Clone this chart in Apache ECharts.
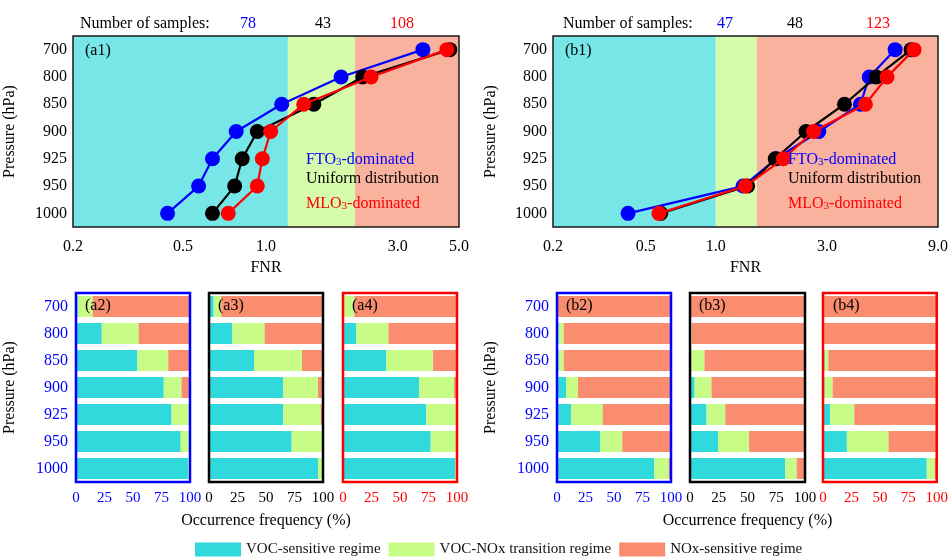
<!DOCTYPE html>
<html>
<head>
<meta charset="utf-8">
<script src="https://cdn.jsdelivr.net/npm/echarts@6/dist/echarts.min.js"></script>
<style>
html, body { margin: 0; padding: 0; background: #ffffff; }
#chart { width: 951px; height: 559px; }
</style>
</head>
<body>
<div id="chart"></div>
<script>
// Pressure levels (hPa), top of the column first
const pressureLevels = ['700', '800', '850', '900', '925', '950', '1000'];

// FNR profiles, region a
const a1FTO = [3.70, 1.87, 1.14, 0.78, 0.64, 0.57, 0.44];
const a1Uniform = [4.63, 2.24, 1.49, 0.93, 0.82, 0.77, 0.64];
const a1MLO = [4.52, 2.40, 1.37, 1.04, 0.97, 0.93, 0.73];
// FNR profiles, region b
const b1FTO = [5.89, 4.56, 4.18, 2.77, 1.82, 1.31, 0.42];
const b1Uniform = [6.90, 4.88, 3.57, 2.44, 1.80, 1.37, 0.58];
const b1MLO = [7.10, 5.44, 4.39, 2.63, 1.95, 1.34, 0.57];

// Regime thresholds on the FNR axis
const a1Thresholds = [1.2, 2.1];
const b1Thresholds = [1.0, 1.5];

// Number of samples per group (FTO3, uniform, MLO3)
const a1Samples = [78, 43, 108];
const b1Samples = [47, 48, 123];

// FNR axis labels and ticks
const a1AxisLabels = [0.2, 0.5, 1.0, 3.0, 5.0];
const a1AxisTicks = [0.2, 0.3, 0.4, 0.5, 0.6, 0.7, 0.8, 0.9, 1, 2, 3, 4, 5];
const b1AxisLabels = [0.2, 0.5, 1.0, 3.0, 9.0];
const b1AxisTicks = [0.2, 0.3, 0.4, 0.5, 0.6, 0.7, 0.8, 0.9, 1, 2, 3, 4, 5, 6, 7, 8, 9];

// Occurrence frequency (%) of each regime per level
const a2VOC = [1.5, 22.6, 53.8, 77.0, 83.8, 91.8, 98.2];
const a2Trans = [13.2, 32.4, 27.1, 15.6, 15.6, 8.2, 1.8];
const a2NOx = [85.3, 45.0, 19.1, 7.4, 0.6, 0, 0];

const a3VOC = [4.1, 20.5, 39.5, 65.2, 65.2, 72.5, 95.6];
const a3Trans = [6.7, 28.3, 42.1, 30.4, 32.8, 27.5, 4.4];
const a3NOx = [89.2, 51.2, 18.4, 4.4, 2.0, 0, 0];

const a4VOC = [0, 11.7, 38.0, 66.7, 73.1, 76.9, 98.5];
const a4Trans = [10.0, 28.1, 41.0, 30.7, 26.9, 23.1, 1.5];
const a4NOx = [90.0, 60.2, 21.0, 2.6, 0, 0, 0];

const b2VOC = [0, 1.5, 1.5, 7.9, 12.3, 38.0, 85.4];
const b2Trans = [0, 4.3, 4.3, 10.5, 27.8, 19.3, 12.6];
const b2NOx = [100, 94.2, 94.2, 81.6, 59.9, 42.7, 2.0];

const b3VOC = [0, 0, 0, 4.0, 14.4, 24.4, 82.8];
const b3Trans = [0, 1.5, 12.6, 14.7, 16.3, 27.0, 10.0];
const b3NOx = [100, 98.5, 87.4, 81.3, 69.3, 48.6, 7.2];

const b4VOC = [0, 0, 1.5, 1.5, 6.4, 21.0, 91.2];
const b4Trans = [0, 0, 3.2, 7.0, 21.1, 36.6, 7.0];
const b4NOx = [100, 100, 95.3, 91.5, 72.5, 42.4, 1.8];

const FONT = '"Liberation Serif", "Times New Roman", "DejaVu Serif", serif';
const BLUE = '#0000ff', BLACK = '#000000', RED = '#ff0000';
const VOC_COLOR = '#30DADC', TRANS_COLOR = '#C7FC87', NOX_COLOR = '#FA8C70';
const BG_VOC = '#76E6E6', BG_TRANS = '#D6FBAB', BG_NOX = '#F9B29E';
const REGIME_NAMES = ['VOC-sensitive regime', 'VOC-NOx transition regime', 'NOx-sensitive regime'];

const option = {
  animation: false,
  backgroundColor: '#ffffff',
  grid: [], xAxis: [], yAxis: [], series: [], graphic: [],
  legend: {
    data: REGIME_NAMES,
    left: 195, top: 542, padding: 0,
    itemWidth: 46, itemHeight: 14, itemGap: 8,
    icon: 'rect',
    selectedMode: false,
    textStyle: { fontFamily: FONT, fontSize: 15, color: '#111' }
  }
};

function txt(size, color) {
  return { fontFamily: FONT, fontSize: size, color: color };
}

// FNR profile panel on a log axis with regime bands behind
function addFnrPanel(rect, xMax, labelVals, tickVals, bounds, profiles, nameGapY) {
  option.grid.push(Object.assign({ show: true, borderColor: '#1a1a1a', borderWidth: 1.5,
    backgroundColor: 'transparent', z: 10 }, rect));
  const gi = option.grid.length - 1;
  const xi = option.xAxis.length;
  const xBase = {
    gridIndex: gi, type: 'log', logBase: 10, min: 0.2, max: xMax, z: 6,
    splitLine: { show: false }, axisLine: { show: false },
    axisTick: { inside: true, length: 5, customValues: tickVals, lineStyle: { color: '#333', width: 1 } }
  };
  option.xAxis.push(Object.assign({}, xBase, {
    position: 'bottom',
    axisLabel: Object.assign({ customValues: labelVals, margin: 12,
      formatter: v => Number(v).toFixed(1) }, txt(16, '#000')),
    name: 'FNR', nameLocation: 'middle', nameGap: 33, nameTextStyle: txt(16, '#000')
  }));
  option.xAxis.push(Object.assign({}, xBase, { position: 'top', axisLabel: { show: false } }));
  const yi = option.yAxis.length;
  const yBase = {
    gridIndex: gi, type: 'category', data: pressureLevels, inverse: true, z: 6,
    axisLine: { show: false }, splitLine: { show: false },
    axisTick: { inside: true, alignWithLabel: true, length: 4, lineStyle: { color: '#333' } }
  };
  option.yAxis.push(Object.assign({}, yBase, {
    position: 'left',
    axisLabel: Object.assign({ margin: 6 }, txt(16, '#000')),
    name: 'Pressure (hPa)', nameLocation: 'middle', nameGap: nameGapY, nameRotate: 90,
    nameTextStyle: txt(16, '#000')
  }));
  option.yAxis.push(Object.assign({}, yBase, { position: 'right', axisLabel: { show: false } }));

  profiles.forEach((p, k) => {
    const s = {
      type: 'line', xAxisIndex: xi, yAxisIndex: yi, silent: true,
      data: p.values.map((v, i) => [v, pressureLevels[i]]),
      symbol: 'circle', symbolSize: 15, showSymbol: true, z: 3 + k,
      color: p.color, itemStyle: { color: p.color }, lineStyle: { width: 2.2, color: p.color }
    };
    if (k === 0) {
      s.markArea = {
        silent: true,
        data: [
          [{ xAxis: 0.2, itemStyle: { color: BG_VOC } }, { xAxis: bounds[0] }],
          [{ xAxis: bounds[0], itemStyle: { color: BG_TRANS } }, { xAxis: bounds[1] }],
          [{ xAxis: bounds[1], itemStyle: { color: BG_NOX } }, { xAxis: xMax }]
        ]
      };
    }
    option.series.push(s);
  });
}

// Stacked regime-frequency panel
function addFreqPanel(rect, color, showYLabels, xName, voc, trans, nox) {
  option.grid.push(Object.assign({ show: true, borderColor: color, borderWidth: 2.5,
    backgroundColor: 'transparent', z: 10, top: 293, height: 189 }, rect));
  const gi = option.grid.length - 1;
  const xi = option.xAxis.length;
  const xBase = {
    gridIndex: gi, type: 'value', min: 0, max: 100, interval: 25, z: 6,
    splitLine: { show: false }, axisLine: { show: false },
    axisTick: { inside: true, length: 4, lineStyle: { color: color, width: 1, opacity: 0.6 } }
  };
  const bottomAxis = Object.assign({}, xBase, {
    position: 'bottom',
    axisLabel: Object.assign({ margin: 9, showMinLabel: true, showMaxLabel: true }, txt(15, color))
  });
  if (xName) {
    Object.assign(bottomAxis, { name: xName, nameLocation: 'middle', nameGap: 31,
      nameTextStyle: txt(16, '#000') });
  }
  option.xAxis.push(bottomAxis);
  option.xAxis.push(Object.assign({}, xBase, { position: 'top', axisLabel: { show: false } }));
  const yi = option.yAxis.length;
  const yBase = {
    gridIndex: gi, type: 'category', data: pressureLevels, inverse: true, z: 6,
    axisLine: { show: false }, splitLine: { show: false },
    axisTick: { inside: true, alignWithLabel: true, length: 4, lineStyle: { color: color, opacity: 0.6 } }
  };
  const leftAxis = Object.assign({}, yBase, { position: 'left', axisTick: { show: false },
    axisLabel: Object.assign({ show: showYLabels, margin: 8 }, txt(16, color)) });
  if (showYLabels) {
    Object.assign(leftAxis, { name: 'Pressure (hPa)', nameLocation: 'middle', nameGap: 58,
      nameRotate: 90, nameTextStyle: txt(16, '#000') });
  }
  option.yAxis.push(leftAxis);
  option.yAxis.push(Object.assign({}, yBase, { position: 'right', axisLabel: { show: false } }));

  [[voc, VOC_COLOR], [trans, TRANS_COLOR], [nox, NOX_COLOR]].forEach((d, k) => {
    option.series.push({
      type: 'bar', name: REGIME_NAMES[k], stack: 'freq' + gi, silent: true,
      xAxisIndex: xi, yAxisIndex: yi, data: d[0], barWidth: 21,
      itemStyle: { color: d[1] }, color: d[1]
    });
  });
}

addFnrPanel({ left: 73, top: 36, width: 386, height: 191 }, 5, a1AxisLabels, a1AxisTicks, a1Thresholds, [
  { values: a1FTO, color: BLUE }, { values: a1Uniform, color: BLACK }, { values: a1MLO, color: RED }
], 55);
addFnrPanel({ left: 553, top: 36, width: 387, height: 191 }, 9, b1AxisLabels, b1AxisTicks, b1Thresholds, [
  { values: b1FTO, color: BLUE }, { values: b1Uniform, color: BLACK }, { values: b1MLO, color: RED }
], 54);

addFreqPanel({ left: 76, width: 114 }, BLUE, true, null, a2VOC, a2Trans, a2NOx);
addFreqPanel({ left: 209, width: 114 }, BLACK, false, 'Occurrence frequency (%)', a3VOC, a3Trans, a3NOx);
addFreqPanel({ left: 343, width: 114 }, RED, false, null, a4VOC, a4Trans, a4NOx);
addFreqPanel({ left: 557, width: 114 }, BLUE, true, null, b2VOC, b2Trans, b2NOx);
addFreqPanel({ left: 690, width: 115 }, BLACK, false, 'Occurrence frequency (%)', b3VOC, b3Trans, b3NOx);
addFreqPanel({ left: 823, width: 114 }, RED, false, null, b4VOC, b4Trans, b4NOx);

// Free text: sample counts, panel tags, group key
function label(x, y, text, color, align) {
  option.graphic.push({
    type: 'text', x: x, y: y, z: 20, silent: true,
    style: { text: text, fill: color, font: '16px ' + FONT, textAlign: align || 'left', textVerticalAlign: 'middle' }
  });
}
function subLabel(x, y, head, tail, color) {
  option.graphic.push({
    type: 'text', x: x, y: y, z: 20, silent: true,
    style: {
      text: '{n|' + head + '}{s|3}{n|' + tail + '}',
      textVerticalAlign: 'middle',
      rich: {
        n: { fill: color, color: color, fontFamily: FONT, fontSize: 16, lineHeight: 18, verticalAlign: 'bottom' },
        s: { fill: color, color: color, fontFamily: FONT, fontSize: 11, lineHeight: 11, padding: [15, 0, 0, 0], verticalAlign: 'bottom' }
      }
    }
  });
}

const sampleColors = [BLUE, BLACK, RED];
const a1SampleX = [248, 323, 402];
const b1SampleX = [725, 795, 878];
label(80, 24, 'Number of samples:', '#000');
a1Samples.forEach((n, i) => label(a1SampleX[i], 24, String(n), sampleColors[i], 'center'));
label(563, 24, 'Number of samples:', '#000');
b1Samples.forEach((n, i) => label(b1SampleX[i], 24, String(n), sampleColors[i], 'center'));

label(85, 51, '(a1)', '#000');
label(565, 51, '(b1)', '#000');
label(85, 306, '(a2)', '#000');
label(218, 306, '(a3)', '#000');
label(352, 306, '(a4)', '#000');
label(566, 306, '(b2)', '#000');
label(699, 306, '(b3)', '#000');
label(833, 306, '(b4)', '#000');

[[306], [788]].forEach(([x]) => {
  subLabel(x, 159, 'FTO', '-dominated', BLUE);
  label(x, 179, 'Uniform distribution', BLACK);
  subLabel(x, 203, 'MLO', '-dominated', RED);
});

const chart = echarts.init(document.getElementById('chart'), null, { renderer: 'canvas' });
chart.setOption(option);
</script>
</body>
</html>
